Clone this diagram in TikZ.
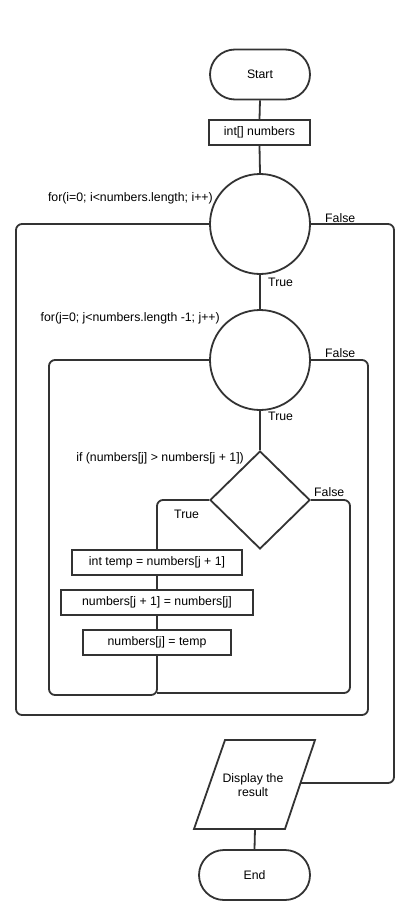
\documentclass[tikz,border=0pt]{standalone}
\usepackage{fontspec}
\setmainfont{Liberation Sans}
\usetikzlibrary{shapes.geometric}
\definecolor{ink}{HTML}{333333}
\begin{document}
\begin{tikzpicture}[x=1pt,y=-1pt,
  every node/.style={font=\fontsize{12.3}{13.5}\selectfont, text=black},
  line/.style={draw=ink, line width=1.8pt, rounded corners=6pt},
  shapebox/.style={draw=ink, line width=1.8pt, fill=white, inner sep=0pt},
  terminal/.style={shapebox, rectangle, rounded corners=25pt, minimum height=50pt},
  procbox/.style={shapebox, rectangle, minimum height=25pt},
  loopnode/.style={shapebox, circle, minimum size=100pt},
  decision/.style={shapebox, diamond, minimum width=100pt, minimum height=98pt},
  lbl/.style={inner sep=0pt, anchor=base west},
  cond/.style={inner sep=0pt, anchor=base east}]

\fill[white] (0,0) rectangle (418,920);
\useasboundingbox (0,0) rectangle (418,920);

% steps of the flow
\node[terminal, minimum width=100pt] (start) at (260,74.5) {Start};
\node[procbox, minimum width=101pt] (init) at (259.5,132.5) {int[] numbers};
\node[loopnode] (c1) at (260,224) {};
\node[loopnode] (c2) at (260,360) {};
\node[decision] (dia) at (260,500) {};
\node[procbox, minimum width=170pt] (b1) at (157,562.5) {int temp = numbers[j + 1]};
\node[procbox, minimum width=192pt] (b2) at (157,602.5) {numbers[j + 1] = numbers[j]};
\node[procbox, minimum width=148pt] (b3) at (157,642.5) {numbers[j] = temp};

% output step (parallelogram)
\draw[shapebox] (225,740) -- (315,740) -- (285,829) -- (194,829) -- cycle;
\node[align=center, inner sep=0pt] (disp) at (253,785) {Display the\\result};
\coordinate (dispR) at (300.5,783);
\coordinate (dispB) at (255,829);
\node[terminal, minimum width=111pt] (end) at (254.5,875) {End};

% condition texts
\node[cond] (l1) at (213,201) {for(i=0; i<numbers.length; i++)};
\node[cond] (l2) at (220,321) {for(j=0; j<numbers.length -1; j++)};
\node[cond] (l3) at (244,461) {if (numbers[j] > numbers[j + 1])};

% branch labels
\node[lbl] (f1) at (325,222.5) {False};
\node[lbl] (t1) at (268,286) {True};
\node[lbl] (f2) at (325,357) {False};
\node[lbl] (t2) at (268,420.5) {True};
\node[lbl] (f3) at (314,496.5) {False};
\node[lbl] (t3) at (174,518) {True};

% connectors
\coordinate (join) at (157,693);
\draw[line] (start.south) -- (init.north);
\draw[line] (init.south) -- (c1.north);
\draw[line] (c1.south) -- (c2.north);
\draw[line] (c2.south) -- (dia.north);
\draw[line] (dia.west) -- (157,500) -- (b1.north);
\draw[line] (b1.south) -- (b2.north);
\draw[line] (b2.south) -- (b3.north);
\draw[line] (b3.south) -- (157,695) -- (49,695) -- (49,360) -- (c2.west);
\draw[line] (dia.east) -- (350,500) -- (350,693) -- (join);
\draw[line] (c2.east) -- (368,360) -- (368,715) -- (16,715) -- (16,224) -- (c1.west);
\draw[line] (c1.east) -- (394,224) -- (394,783) -- (dispR);
\draw[line] (dispB) -- (end.north);
\end{tikzpicture}
\end{document}
